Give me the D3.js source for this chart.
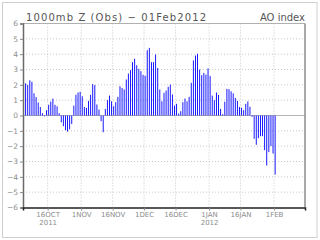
<!DOCTYPE html>
<html>
<head>
<meta charset="utf-8">
<script src="https://cdn.jsdelivr.net/npm/d3@7"></script>
<style>
  body { margin: 0; background: #fff; }
  svg { display: block; font-family: 'DejaVu Sans', sans-serif; }
</style>
</head>
<body>
<svg id="chart" width="320" height="240"></svg>
<script>
// daily AO index, one value per day starting at first_day
const first_day = '2011-10-04'
const ao_values = [
  2.35, 2.1, 2.0, 2.3, 2.2, 1.45, 1.2, 0.85, 0.55, 0.15,
  -0.05, 0.35, 0.7, 0.9, 1.1, 0.7, 0.6, 0.15, -0.45, -0.7,
  -0.95, -1.05, -0.9, -0.55, 0.65, 1.35, 1.5, 1.55, 1.25, 0.55,
  0.5, 0.95, 1.35, 2.05, 1.98, 0.72, 0.39, -0.37, -1.09, 0.43,
  1.0, 1.3, 0.93, 0.61, 0.87, 1.22, 1.91, 1.8, 1.7, 2.35,
  2.74, 2.96, 3.48, 3.7, 3.28, 3.04, 2.89, 2.65, 2.59, 4.26,
  4.41, 3.48, 3.48, 3.98, 3.1, 1.7, 0.93, 1.48, 1.63, 1.87,
  2.02, 1.37, 0.65, 0.76, 0.13, 0.28, 0.87, 1.11, 0.93, 1.22,
  2.13, 3.59, 3.91, 4.02, 3.0, 2.63, 2.78, 2.67, 3.07, 2.57,
  1.3, 1.0, 1.5, 1.34, 0.43, 0.09, 0.9, 1.74, 1.72, 1.58,
  1.45, 1.15, 0.95, 0.55, 0.5, 0.35, 0.76, 0.92, 0.57, -0.09,
  -1.52, -1.91, -1.48, -1.35, -1.35, -2.26, -3.26, -2.39, -2.0, -2.48,
  -3.85
]

const y_ticks = [-6, -5, -4, -3, -2, -1, 0, 1, 2, 3, 4, 5, 6]
const x_domain = ['2011-10-04T06:00:00Z', '2012-02-15T18:00:00Z']
const x_tick_days = ['2011-10-16', '2011-11-01', '2011-11-16', '2011-12-01',
                     '2011-12-16', '2012-01-01', '2012-01-16', '2012-02-01']
const x_tick_labels = ['16OCT', '1NOV', '16NOV', '1DEC', '16DEC', '1JAN', '16JAN', '1FEB']
const x_tick_years = ['2011', '', '', '', '', '2012', '', '']

const title_left = '1000mb Z (Obs) \u2212 01Feb2012'
const title_right = 'AO index'

const width = 320, height = 240
const plot = {left: 23, right: 305, top: 23.5, bottom: 207.5}

const parse_day = d3.utcParse('%Y-%m-%d')
const start = parse_day(first_day)
const bars = ao_values.map((v, i)=> ({date: d3.utcDay.offset(start, i), value: v}))

const x = d3.scaleUtc()
  .domain(x_domain.map((s)=> new Date(s)))
  .range([plot.left, plot.right])
const y = d3.scaleLinear()
  .domain([-6, 6])
  .range([plot.bottom, plot.top])

const svg = d3.select('#chart')

// outer frame
svg.append('rect')
  .attr('x', 2.5).attr('y', 2.5)
  .attr('width', width - 5.5).attr('height', height - 5)
  .attr('fill', '#fff')
  .attr('stroke', '#cfcfcf')

// dotted grid
const tick_dates = x_tick_days.map(parse_day)
svg.append('g')
  .selectAll('line')
  .data(y_ticks.filter((t)=> t > -6 && t < 6 && t !== 0))
  .enter()
  .append('line')
  .attr('x1', plot.left).attr('x2', plot.right)
  .attr('y1', (d)=> y(d)).attr('y2', (d)=> y(d))
  .attr('stroke', '#c8c8c8')
  .attr('stroke-dasharray', '1,2')

svg.append('g')
  .selectAll('line')
  .data(tick_dates)
  .enter()
  .append('line')
  .attr('x1', (d)=> x(d)).attr('x2', (d)=> x(d))
  .attr('y1', plot.top).attr('y2', plot.bottom)
  .attr('stroke', '#c8c8c8')
  .attr('stroke-dasharray', '1,2')

// zero line
svg.append('line')
  .attr('x1', plot.left).attr('x2', plot.right)
  .attr('y1', y(0)).attr('y2', y(0))
  .attr('stroke', '#b4b4b4')

// bars, thin at the middle of each day (antialiasing gives the light/dark runs)
svg.append('g')
  .selectAll('rect')
  .data(bars)
  .enter()
  .append('rect')
  .attr('x', (d)=> x(d3.utcHour.offset(d.date, 12)) - 0.45)
  .attr('width', 0.9)
  .attr('y', (d)=> Math.min(y(d.value), y(0)))
  .attr('height', (d)=> Math.abs(y(d.value) - y(0)))
  .attr('fill', '#0000ff')

// plot frame: grey top/right, dark left/bottom
svg.append('line')
  .attr('x1', plot.left).attr('x2', plot.right)
  .attr('y1', plot.top).attr('y2', plot.top)
  .attr('stroke', '#b0b0b0')
svg.append('line')
  .attr('x1', plot.right).attr('x2', plot.right)
  .attr('y1', plot.top).attr('y2', plot.bottom)
  .attr('stroke', '#8c8c8c').attr('stroke-width', 1.5)

const y_axis = d3.axisLeft(y)
  .tickValues(y_ticks)
  .tickSize(3)
  .tickFormat((d)=> d3.format('d')(d).replace('-', '\u2212'))
const y_g = svg.append('g')
  .attr('transform', `translate(${plot.left},0)`)
  .call(y_axis)
y_g.select('.domain').attr('stroke', '#6a6a6a').attr('stroke-width', 1.5)
y_g.selectAll('.tick line').attr('stroke', '#888')
y_g.selectAll('.tick text')
  .attr('x', -5)
  .attr('fill', '#8c8c8c')
  .attr('font-size', 7.5)
  .attr('font-family', 'DejaVu Sans')

const x_axis = d3.axisBottom(x)
  .tickValues(tick_dates)
  .tickSize(3)
  .tickFormat((d, i)=> x_tick_labels[i])
const x_g = svg.append('g')
  .attr('transform', `translate(0,${plot.bottom})`)
  .call(x_axis)
x_g.select('.domain').attr('stroke', '#222').attr('stroke-width', 1.5)
x_g.selectAll('.tick line').attr('stroke', '#888')
x_g.selectAll('.tick text')
  .attr('y', 5)
  .attr('fill', '#8c8c8c')
  .attr('font-size', 7)
  .attr('font-family', 'DejaVu Sans')

// year under first tick of each year
x_g.selectAll('.tick')
  .append('text')
  .attr('y', 13)
  .attr('dy', '0.71em')
  .attr('fill', '#8c8c8c')
  .attr('font-size', 7)
  .attr('font-family', 'DejaVu Sans')
  .attr('text-anchor', 'middle')
  .text((d, i)=> x_tick_years[i])

// titles
svg.append('text')
  .attr('x', 26).attr('y', 20.5)
  .attr('font-size', 10)
  .attr('fill', '#555')
  .attr('textLength', 180)
  .attr('lengthAdjust', 'spacing')
  .text(title_left)
svg.append('text')
  .attr('x', 305).attr('y', 20.5)
  .attr('font-size', 10)
  .attr('fill', '#555')
  .attr('text-anchor', 'end')
  .text(title_right)
</script>
</body>
</html>
